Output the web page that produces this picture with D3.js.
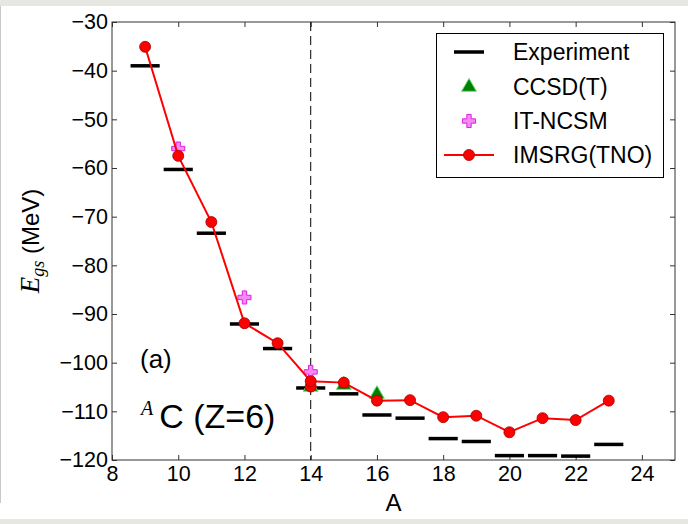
<!DOCTYPE html>
<html>
<head>
<meta charset="utf-8">
<script src="https://cdn.jsdelivr.net/npm/d3@7"></script>
<style>
  body { margin: 0; background: #ffffff; }
  svg { display: block; }
</style>
</head>
<body>
<div id="chart"></div>
<script>
// mass numbers of the carbon isotopes
const massNumbers = [9, 10, 11, 12, 13, 14, 15, 16, 17, 18, 19, 20, 21, 22, 23]
const experiment = [-39.0, -60.3, -73.4, -92.05, -97.1, -105.2, -106.4, -110.75, -111.4, -115.6, -116.2, -119.1, -119.1, -119.2, -116.8]
const imsrg = [-35.1, -57.5, -71.1, -91.9, -96.0, -103.8, -104.1, -107.8, -107.7, -111.2, -110.9, -114.3, -111.4, -111.8, -107.8]
// second IMSRG point at A=14
const imsrgExtraA = [14]
const imsrgExtra = [-104.9]
const ccsdA = [14, 15, 16]
const ccsd = [-105.0, -104.6, -106.5]
const ncsmA = [10, 12, 14]
const ncsm = [-56.0, -86.6, -101.9]
const xTicks = [8, 10, 12, 14, 16, 18, 20, 22, 24]
const yTicks = [-120, -110, -100, -90, -80, -70, -60, -50, -40, -30]
const legendLabels = ["Experiment", "CCSD(T)", "IT-NCSM", "IMSRG(TNO)"]

const W = 688, H = 524
const margin = {top: 22, right: 13, bottom: 64, left: 112}
const width = W - margin.left - margin.right
const height = H - margin.top - margin.bottom

const root = d3.select("#chart").append("svg")
    .attr("width", W)
    .attr("height", H)

// grey page frame
root.append("rect").attr("width", W).attr("height", 6).attr("fill", "#e7e7e2")
root.append("rect").attr("y", 519).attr("width", W).attr("height", 5).attr("fill", "#e7e7e2")
root.append("rect").attr("y", 6).attr("width", 1).attr("height", 497).attr("fill", "#c9c9c9")

const svg = root.append("g")
    .attr("transform", `translate(${margin.left},${margin.top})`)

const x = d3.scaleLinear().domain([8, 25]).range([0, width])
const y = d3.scaleLinear().domain([-120, -30]).range([height, 0])

const tickFont = "'Liberation Sans', Arial, sans-serif"

// axes with inward ticks
svg.append("g")
    .attr("transform", `translate(0,${height})`)
    .call(d3.axisBottom(x).tickValues(xTicks).tickSizeInner(-5).tickSizeOuter(0).tickPadding(6))
svg.append("g")
    .call(d3.axisLeft(y).tickValues(yTicks).tickSizeInner(-5).tickSizeOuter(0).tickPadding(4))
svg.append("g")
    .call(d3.axisTop(x).tickValues(xTicks).tickSizeInner(-5).tickSizeOuter(0).tickFormat(""))
svg.append("g")
    .attr("transform", `translate(${width},0)`)
    .call(d3.axisRight(y).tickValues(yTicks).tickSizeInner(-5).tickSizeOuter(0).tickFormat(""))

svg.selectAll(".domain").remove()
svg.selectAll(".tick line").attr("stroke", "#333")
svg.selectAll(".tick text")
    .style("font-family", tickFont)
    .style("font-size", "21.5px")
    .attr("fill", "#000")

svg.append("rect")
    .attr("width", width)
    .attr("height", height)
    .attr("fill", "none")
    .attr("stroke", "#333")
    .attr("stroke-width", 1)

// dashed line at A=14
svg.append("line")
    .attr("x1", x(14)).attr("x2", x(14))
    .attr("y1", 0).attr("y2", height)
    .attr("stroke", "#000")
    .attr("stroke-width", 1)
    .attr("stroke-dasharray", "9,5")

// experiment bars
svg.selectAll(".exp")
    .data(massNumbers)
    .join("line")
    .attr("class", "exp")
    .attr("x1", d => x(d - 0.44))
    .attr("x2", d => x(d + 0.44))
    .attr("y1", (d, i) => y(experiment[i]))
    .attr("y2", (d, i) => y(experiment[i]))
    .attr("stroke", "#000")
    .attr("stroke-width", 3.5)

const tri = d3.symbol(d3.symbolTriangle, 95)
const plus = d3.symbol(d3.symbolCross, 95)

svg.selectAll(".ccsd")
    .data(ccsdA)
    .join("path")
    .attr("class", "ccsd")
    .attr("d", tri)
    .attr("transform", (d, i) => `translate(${x(d)},${y(ccsd[i])})`)
    .attr("fill", "#008000")
    .attr("stroke", "#66dd66")
    .attr("stroke-width", 1)

svg.selectAll(".ncsm")
    .data(ncsmA)
    .join("path")
    .attr("class", "ncsm")
    .attr("d", plus)
    .attr("transform", (d, i) => `translate(${x(d)},${y(ncsm[i])})`)
    .attr("fill", "#f38af3")
    .attr("stroke", "#e020e0")
    .attr("stroke-width", 1)

// IMSRG line and points
const line = d3.line()
    .x(d => x(d))
    .y((d, i) => y(imsrg[i]))
svg.append("path")
    .datum(massNumbers)
    .attr("d", line)
    .attr("fill", "none")
    .attr("stroke", "#ff0000")
    .attr("stroke-width", 2)

svg.selectAll(".imsrgx")
    .data(imsrgExtraA)
    .join("circle")
    .attr("class", "imsrgx")
    .attr("cx", d => x(d))
    .attr("cy", (d, i) => y(imsrgExtra[i]))
    .attr("r", 5.5)
    .attr("fill", "#ff0000")
    .attr("stroke", "#a00000")
    .attr("stroke-width", 0.8)

svg.selectAll(".imsrg")
    .data(massNumbers)
    .join("circle")
    .attr("class", "imsrg")
    .attr("cx", d => x(d))
    .attr("cy", (d, i) => y(imsrg[i]))
    .attr("r", 5.5)
    .attr("fill", "#ff0000")
    .attr("stroke", "#a00000")
    .attr("stroke-width", 0.8)

// annotations
svg.append("text")
    .attr("x", 140 - margin.left)
    .attr("y", 368 - margin.top)
    .style("font-family", tickFont)
    .style("font-size", "26px")
    .text("(a)")

const iso = svg.append("text")
    .attr("x", 141 - margin.left)
    .attr("y", 428 - margin.top)
    .style("font-family", tickFont)
    .style("font-size", "34px")
iso.append("tspan")
    .attr("dy", -13)
    .style("font-family", "'Liberation Serif', 'DejaVu Serif', serif")
    .style("font-style", "italic")
    .style("font-size", "20px")
    .text("A")
iso.append("tspan")
    .attr("dy", 13)
    .attr("dx", 6)
    .text("C (Z=6)")

// axis labels
svg.append("text")
    .attr("x", width / 2)
    .attr("y", 511 - margin.top)
    .attr("text-anchor", "middle")
    .style("font-family", tickFont)
    .style("font-size", "24px")
    .text("A")

const yl = root.append("text")
    .attr("transform", `translate(39,${margin.top + height / 2}) rotate(-90)`)
    .attr("text-anchor", "middle")
    .style("font-family", tickFont)
    .style("font-size", "24px")
yl.append("tspan")
    .style("font-family", "'Liberation Serif', 'DejaVu Serif', serif")
    .style("font-style", "italic")
    .style("font-size", "27px")
    .text("E")
yl.append("tspan")
    .attr("dy", 5)
    .style("font-family", "'Liberation Serif', 'DejaVu Serif', serif")
    .style("font-style", "italic")
    .style("font-size", "18px")
    .text("gs")
yl.append("tspan")
    .attr("dy", -5)
    .text(" (MeV)")

// legend
const lg = root.append("g")
lg.append("rect")
    .attr("x", 436.5).attr("y", 33.5)
    .attr("width", 227).attr("height", 144)
    .attr("fill", "#fff")
    .attr("stroke", "#000")
    .attr("stroke-width", 1)

const rowY = [52, 87, 121, 155]
const mx = 469
lg.append("line")
    .attr("x1", mx - 15).attr("x2", mx + 15)
    .attr("y1", rowY[0]).attr("y2", rowY[0])
    .attr("stroke", "#000").attr("stroke-width", 3.5)
lg.append("path")
    .attr("d", tri)
    .attr("transform", `translate(${mx},${rowY[1]})`)
    .attr("fill", "#008000").attr("stroke", "#66dd66").attr("stroke-width", 1)
lg.append("path")
    .attr("d", plus)
    .attr("transform", `translate(${mx},${rowY[2]})`)
    .attr("fill", "#f38af3").attr("stroke", "#e020e0").attr("stroke-width", 1)
lg.append("line")
    .attr("x1", mx - 25).attr("x2", mx + 25)
    .attr("y1", rowY[3]).attr("y2", rowY[3])
    .attr("stroke", "#ff0000").attr("stroke-width", 2)
lg.append("circle")
    .attr("cx", mx).attr("cy", rowY[3]).attr("r", 5.5)
    .attr("fill", "#ff0000").attr("stroke", "#a00000").attr("stroke-width", 0.8)

lg.selectAll(".lt")
    .data(legendLabels)
    .join("text")
    .attr("class", "lt")
    .attr("x", 513)
    .attr("y", (d, i) => rowY[i])
    .attr("dy", "0.36em")
    .style("font-family", tickFont)
    .style("font-size", "23px")
    .text(d => d)
</script>
</body>
</html>
